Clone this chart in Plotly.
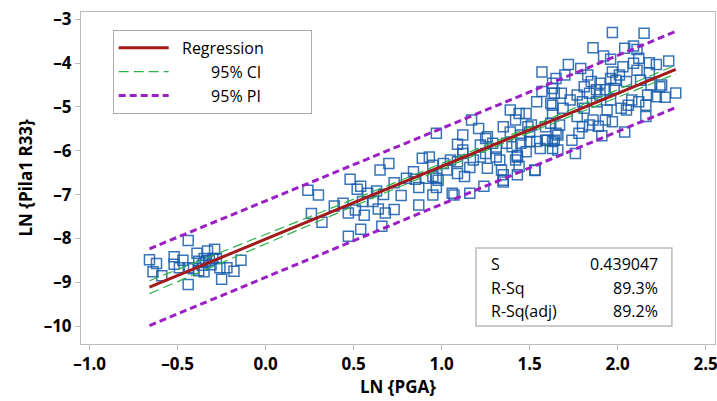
import numpy as np
import plotly.graph_objects as go

# ---- data (LN PGA, LN Pila1 R33) ----
x_left = [-0.66, -0.62, -0.64, -0.59, -0.52, -0.52, -0.47, -0.44, -0.44, -0.44,
          -0.39, -0.38, -0.36, -0.35, -0.33, -0.32, -0.29, -0.30, -0.26, -0.25,
          -0.22, -0.18, -0.14, -0.35, -0.31, -0.28, -0.41, -0.49, -0.38, -0.34]
y_left = [-8.49, -8.57, -8.76, -8.85, -8.42, -8.59, -8.50, -8.05, -8.67, -9.05,
          -8.34, -8.52, -8.61, -8.76, -8.29, -8.50, -8.25, -8.46, -8.67, -8.93,
          -8.67, -8.75, -8.50, -8.46, -8.60, -8.46, -8.69, -8.67, -8.74, -8.55]

x_mid = [0.24, 0.30, 0.26, 0.32, 0.39, 0.44, 0.47, 0.47, 0.51, 0.48,
         0.52, 0.54, 0.54, 0.56, 0.55, 0.58, 0.61, 0.63, 0.64, 0.67,
         0.66, 0.68, 0.73, 0.65, 0.70, 0.73, 0.77, 0.80, 0.84, 0.85,
         0.87, 0.87, 0.89, 0.91, 0.93, 0.95, 0.95, 0.97, 0.97, 0.97]
y_mid = [-6.90, -7.01, -7.43, -7.63, -7.26, -7.20, -7.42, -7.95, -7.35, -6.65,
         -6.88, -6.81, -7.79, -7.47, -7.16, -6.97, -7.16, -6.92, -7.33, -7.00,
         -7.72, -7.42, -7.34, -6.44, -6.29, -6.73, -7.02, -6.63, -6.48, -6.65,
         -6.84, -7.24, -6.17, -6.63, -6.14, -6.33, -7.01, -6.84, -6.63, -5.60]

x_upper = [1.17, 1.21, 1.12, 1.09, 1.12, 1.05, 1.01, 1.03, 0.95, 0.98,
           1.07, 1.09, 1.13, 1.16, 1.24, 1.09, 1.16, 1.18, 1.12, 1.22,
           1.26, 1.25, 1.22, 1.26, 1.29, 1.31, 1.33, 1.35, 1.34, 1.35,
           1.35, 1.39, 1.39, 1.40, 1.42, 1.42, 1.44, 1.45, 1.44, 1.43,
           1.48, 1.49, 1.50, 1.48, 1.51, 1.53, 1.54, 1.56, 1.57, 1.57,
           1.59, 1.60, 1.62, 1.63, 1.63, 1.64, 1.65, 1.66, 1.43, 1.06,
           1.35, 1.25, 1.31, 1.37, 1.45, 1.43, 1.54, 1.59, 1.62, 1.64,
           1.50]
y_upper = [-5.30, -5.49, -5.64, -5.85, -5.98, -6.21, -6.29, -6.44, -6.59, -6.67,
           -7.01, -6.52, -6.59, -6.97, -6.81, -6.25, -6.38, -6.21, -6.06, -5.87,
           -5.68, -6.06, -6.14, -6.40, -5.83, -6.14, -6.21, -5.45, -6.44, -6.55,
           -6.67, -5.07, -5.57, -5.91, -6.21, -5.30, -5.15, -5.64, -6.36, -6.55,
           -5.15, -5.45, -5.79, -6.02, -5.41, -6.44, -4.88, -5.95, -4.65, -4.20,
           -5.45, -5.76, -4.92, -5.15, -4.46, -4.69, -5.60, -5.98, -6.10, -6.97,
           -6.71, -5.72, -5.95, -5.83, -5.83, -6.14, -5.79, -5.76, -5.37, -5.76,
           -5.57]

x_top = [1.97, 2.15, 1.86, 2.04, 2.09, 2.11, 1.92, 1.96, 2.12, 1.72,
         1.79, 2.03, 2.09, 2.18, 2.22, 2.29, 2.11, 1.83, 1.97, 2.01,
         2.18, 1.70, 1.65, 1.85, 1.90, 1.96, 1.99, 2.05, 2.13, 2.19,
         2.24, 1.81, 1.88, 1.93, 1.98, 1.63, 1.68, 1.77, 1.84, 1.90,
         2.33, 2.27, 2.22, 2.17, 2.12, 2.08, 2.06, 2.16, 2.02, 1.73,
         1.80, 1.88, 1.96, 1.63, 1.69, 1.81, 1.94, 2.05, 2.16, 1.77,
         1.86, 1.93, 1.97, 1.67, 1.80, 1.84, 1.89, 2.04, 1.66, 1.78,
         1.91, 1.74, 1.63, 1.76, 1.63, 2.25, 1.53]
y_top = [-3.30, -3.32, -3.65, -3.66, -3.61, -3.69, -3.84, -3.91, -3.89, -4.03,
         -4.12, -4.08, -4.00, -3.99, -4.03, -3.95, -4.16, -4.27, -4.20, -4.27,
         -4.22, -4.27, -4.35, -4.42, -4.46, -4.35, -4.39, -4.42, -4.39, -4.50,
         -4.54, -4.54, -4.61, -4.61, -4.58, -4.58, -4.69, -4.73, -4.69, -4.73,
         -4.68, -4.78, -4.77, -4.73, -4.88, -4.84, -4.96, -4.96, -5.03, -4.84,
         -4.88, -4.88, -4.84, -4.96, -5.03, -5.03, -5.07, -5.07, -5.22, -5.22,
         -5.30, -5.30, -5.34, -5.41, -5.45, -5.41, -5.44, -5.57, -5.64, -5.60,
         -5.66, -5.76, -5.79, -6.06, -5.95, -4.50, -6.45]

stat_labels = ["S", "R-Sq", "R-Sq(adj)"]
stat_values = ["0.439047", "89.3%", "89.2%"]
S_value = 0.439047

x_ticks = [-1.0, -0.5, 0.0, 0.5, 1.0, 1.5, 2.0, 2.5]
y_ticks = [-10, -9, -8, -7, -6, -5, -4, -3]

# ---- regression from the data ----
x = np.array(x_left + x_mid + x_upper + x_top)
y = np.array(y_left + y_mid + y_upper + y_top)
n = len(x)
b1, b0 = np.polyfit(x, y, 1)
s = S_value
xbar = x.mean()
sxx = np.sum((x - xbar) ** 2)
t = 1.966
xf = np.linspace(x.min(), x.max(), 120)
yf = b0 + b1 * xf
ci = t * s * np.sqrt(1.0 / n + (xf - xbar) ** 2 / sxx)
pi = t * s * np.sqrt(1 + 1.0 / n + (xf - xbar) ** 2 / sxx)

FONT = "Open Sans"
CI_COLOR = "#2DB34A"
fig = go.Figure()
fig.add_trace(go.Scatter(
    x=x, y=y, mode="markers", showlegend=False,
    marker=dict(symbol="square-open", size=10, color="rgba(22,92,172,0.85)",
                line=dict(width=1.5))))

nb = "\u00a0"
fig.add_trace(go.Scatter(x=xf, y=yf, mode="lines", name=nb * 2 + "Regression" + nb * 10,
                         legendgroup="a", line=dict(color="#A31A1A", width=3)))
fig.add_trace(go.Scatter(x=xf, y=yf + ci, mode="lines", name=nb * 9 + "95% CI" + nb * 10,
                         legendgroup="b", line=dict(color=CI_COLOR, width=1.2, dash="10px,5px")))
fig.add_trace(go.Scatter(x=xf, y=yf - ci, mode="lines", showlegend=False,
                         legendgroup="b", line=dict(color=CI_COLOR, width=1.2, dash="10px,5px")))
fig.add_trace(go.Scatter(x=xf, y=yf + pi, mode="lines", name=nb * 9 + "95% PI" + nb * 10,
                         legendgroup="c", line=dict(color="#9A1FC4", width=3, dash="7px,4px")))
fig.add_trace(go.Scatter(x=xf, y=yf - pi, mode="lines", showlegend=False,
                         legendgroup="c", line=dict(color="#9A1FC4", width=3, dash="7px,4px")))

axis_common = dict(showgrid=False, zeroline=False, showline=True, linecolor="#BBBBBB",
                   linewidth=1, mirror=True, ticks="outside", tickcolor="#BBBBBB",
                   ticklen=5, automargin=False, ticklabeloverflow="allow",
                   tickfont=dict(family=FONT, size=17, color="black", weight="bold"))

fig.update_xaxes(range=[-1.049, 2.553], tickvals=x_ticks,
                 ticktext=[f"{v:.1f}".replace("-", "\u2013") for v in x_ticks],
                 **axis_common)
fig.update_yaxes(range=[-10.41, -2.833], tickvals=y_ticks,
                 ticktext=[f"{v}".replace("-", "\u2013") for v in y_ticks],
                 **axis_common)

# axis titles
fig.add_annotation(xref="paper", yref="paper", x=0.5, y=-0.128, yanchor="middle",
                   text="<b>LN {PGA}</b>", showarrow=False,
                   font=dict(family=FONT, size=17, color="black"))
fig.add_annotation(xref="paper", yref="paper", x=-0.089, y=0.5, xanchor="center",
                   text="<b>LN {Pila1 R33}</b>", showarrow=False, textangle=-90,
                   font=dict(family=FONT, size=17, color="black"))

# stats box
fig.add_shape(type="rect", xref="paper", yref="paper", x0=0.623, x1=0.932, y0=0.054, y1=0.289,
              line=dict(color="#BBBBBB", width=1.5), fillcolor="white")
row_y = [0.241, 0.169, 0.099]
for lab, val, ry in zip(stat_labels, stat_values, row_y):
    fig.add_annotation(xref="paper", yref="paper", x=0.643, y=ry, text=lab, showarrow=False,
                       xanchor="left", yanchor="middle",
                       font=dict(family=FONT, size=16, color="black"))
    fig.add_annotation(xref="paper", yref="paper", x=0.914, y=ry, text=val, showarrow=False,
                       xanchor="right", yanchor="middle",
                       font=dict(family=FONT, size=16, color="black"))

fig.update_layout(
    width=717, height=401, plot_bgcolor="white", paper_bgcolor="white",
    margin=dict(l=81, r=2, t=12, b=57),
    legend=dict(x=0.05, y=0.946, xanchor="left", yanchor="top", bgcolor="white",
                bordercolor="#AAAAAA", borderwidth=1, tracegroupgap=0,
                font=dict(family=FONT, size=16, color="black"), itemwidth=50),
)

# remove the default page margin so the figure fills the window exactly
fig.write_html("out.html", config={"displayModeBar": False},
               post_script="document.body.style.margin='0px';document.body.style.overflow='hidden';")
